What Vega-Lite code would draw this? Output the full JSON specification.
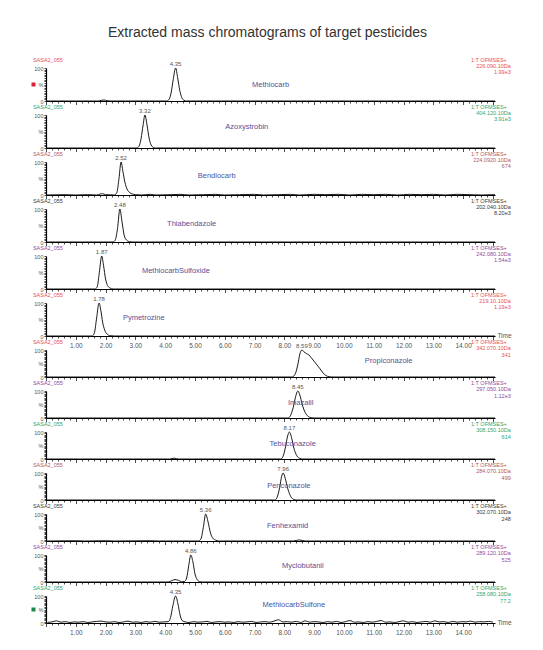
{
"$schema":"https://vega.github.io/schema/vega-lite/v6.json",
"title":{"text":"Extracted mass chromatograms of target pesticides","fontSize":14,"font":"Liberation Sans","fontWeight":"normal","color":"#333","anchor":"middle","offset":18,"dx":-4},
"padding":{"left":31,"top":25,"right":5,"bottom":5},
"spacing":14,
"bounds":"flush",
"config":{"view":{"stroke":null},"axis":{"domainColor":"#000","tickColor":"#000","labelFont":"Liberation Sans","labelColor":"#555","grid":false},"text":{"font":"Liberation Sans"}},
"data":{"values":[
{"c":"Methiocarb","peak":4.35,"sample":"SASA2_055","fn":"1:T OFMSES+","mz":"226.090.10Da","max":"1.99e3"},
{"c":"Azoxystrobin","peak":3.32,"sample":"SASA2_055","fn":"1:T OFMSES+","mz":"404.120.10Da","max":"3.91e3"},
{"c":"Bendiocarb","peak":2.52,"sample":"SASA2_055","fn":"1:T OFMSES+","mz":"224.0920.10Da","max":"674"},
{"c":"Thiabendazole","peak":2.48,"sample":"SASA2_055","fn":"1:T OFMSES+","mz":"202.040.10Da","max":"8.20e3"},
{"c":"MethiocarbSulfoxide","peak":1.87,"sample":"SASA2_055","fn":"1:T OFMSES+","mz":"242.080.10Da","max":"1.54e3"},
{"c":"Pymetrozine","peak":1.78,"sample":"SASA2_055","fn":"1:T OFMSES+","mz":"219.10.10Da","max":"1.19e3"},
{"c":"Propiconazole","peak":8.59,"sample":"SASA2_055","fn":"1:T OFMSES+","mz":"342.070.10Da","max":"341"},
{"c":"Imazalil","peak":8.45,"sample":"SASA2_055","fn":"1:T OFMSES+","mz":"297.050.10Da","max":"1.12e3"},
{"c":"Tebuconazole","peak":8.17,"sample":"SASA2_055","fn":"1:T OFMSES+","mz":"308.150.10Da","max":"614"},
{"c":"Penconazole","peak":7.96,"sample":"SASA2_055","fn":"1:T OFMSES+","mz":"284.070.10Da","max":"499"},
{"c":"Fenhexamid","peak":5.36,"sample":"SASA2_055","fn":"1:T OFMSES+","mz":"302.070.10Da","max":"248"},
{"c":"Myclobutanil","peak":4.86,"sample":"SASA2_055","fn":"1:T OFMSES+","mz":"289.120.10Da","max":"525"},
{"c":"MethiocarbSulfone","peak":4.35,"sample":"SASA2_055","fn":"1:T OFMSES+","mz":"258.080.10Da","max":"77.2"},
{"c":"Methiocarb","t":0.02,"i":0},{"c":"Methiocarb","t":1.75,"i":0},{"c":"Methiocarb","t":1.85,"i":2},{"c":"Methiocarb","t":1.95,"i":3},{"c":"Methiocarb","t":2.05,"i":1},{"c":"Methiocarb","t":2.15,"i":0},{"c":"Methiocarb","t":4.05,"i":0},{"c":"Methiocarb","t":4.13,"i":5},{"c":"Methiocarb","t":4.2,"i":25},{"c":"Methiocarb","t":4.27,"i":65},{"c":"Methiocarb","t":4.35,"i":100},{"c":"Methiocarb","t":4.42,"i":70},{"c":"Methiocarb","t":4.49,"i":32},{"c":"Methiocarb","t":4.56,"i":10},{"c":"Methiocarb","t":4.63,"i":2},{"c":"Methiocarb","t":4.72,"i":0},{"c":"Methiocarb","t":15.07,"i":0},
{"c":"Azoxystrobin","t":0.02,"i":0},{"c":"Azoxystrobin","t":3.05,"i":0},{"c":"Azoxystrobin","t":3.12,"i":5},{"c":"Azoxystrobin","t":3.19,"i":28},{"c":"Azoxystrobin","t":3.26,"i":70},{"c":"Azoxystrobin","t":3.32,"i":100},{"c":"Azoxystrobin","t":3.39,"i":70},{"c":"Azoxystrobin","t":3.46,"i":30},{"c":"Azoxystrobin","t":3.53,"i":9},{"c":"Azoxystrobin","t":3.6,"i":2},{"c":"Azoxystrobin","t":3.68,"i":0},{"c":"Azoxystrobin","t":15.07,"i":0},
{"c":"Bendiocarb","t":0.02,"i":0},{"c":"Bendiocarb","t":0.6,"i":1},{"c":"Bendiocarb","t":1.0,"i":0},{"c":"Bendiocarb","t":1.4,"i":1},{"c":"Bendiocarb","t":1.7,"i":0},{"c":"Bendiocarb","t":1.82,"i":3},{"c":"Bendiocarb","t":1.9,"i":4},{"c":"Bendiocarb","t":2.0,"i":1},{"c":"Bendiocarb","t":2.3,"i":0},{"c":"Bendiocarb","t":2.38,"i":8},{"c":"Bendiocarb","t":2.45,"i":50},{"c":"Bendiocarb","t":2.52,"i":100},{"c":"Bendiocarb","t":2.58,"i":72},{"c":"Bendiocarb","t":2.65,"i":38},{"c":"Bendiocarb","t":2.72,"i":18},{"c":"Bendiocarb","t":2.8,"i":8},{"c":"Bendiocarb","t":2.9,"i":3},{"c":"Bendiocarb","t":3.0,"i":1},{"c":"Bendiocarb","t":3.2,"i":0},{"c":"Bendiocarb","t":3.5,"i":2},{"c":"Bendiocarb","t":3.7,"i":0},{"c":"Bendiocarb","t":4.2,"i":1},{"c":"Bendiocarb","t":4.5,"i":2},{"c":"Bendiocarb","t":4.8,"i":0},{"c":"Bendiocarb","t":5.3,"i":1},{"c":"Bendiocarb","t":5.7,"i":2},{"c":"Bendiocarb","t":6.0,"i":0},{"c":"Bendiocarb","t":6.5,"i":1},{"c":"Bendiocarb","t":7.0,"i":2},{"c":"Bendiocarb","t":7.3,"i":0},{"c":"Bendiocarb","t":7.8,"i":1},{"c":"Bendiocarb","t":8.2,"i":2},{"c":"Bendiocarb","t":8.5,"i":0},{"c":"Bendiocarb","t":9.0,"i":2},{"c":"Bendiocarb","t":9.4,"i":1},{"c":"Bendiocarb","t":9.8,"i":2},{"c":"Bendiocarb","t":10.2,"i":0},{"c":"Bendiocarb","t":10.6,"i":2},{"c":"Bendiocarb","t":11.0,"i":1},{"c":"Bendiocarb","t":11.4,"i":2},{"c":"Bendiocarb","t":11.8,"i":0},{"c":"Bendiocarb","t":12.2,"i":2},{"c":"Bendiocarb","t":12.6,"i":1},{"c":"Bendiocarb","t":13.0,"i":2},{"c":"Bendiocarb","t":13.4,"i":0},{"c":"Bendiocarb","t":13.8,"i":2},{"c":"Bendiocarb","t":14.2,"i":1},{"c":"Bendiocarb","t":14.6,"i":0},{"c":"Bendiocarb","t":15.07,"i":1},
{"c":"Thiabendazole","t":0.02,"i":0},{"c":"Thiabendazole","t":2.25,"i":0},{"c":"Thiabendazole","t":2.32,"i":5},{"c":"Thiabendazole","t":2.4,"i":40},{"c":"Thiabendazole","t":2.48,"i":100},{"c":"Thiabendazole","t":2.55,"i":62},{"c":"Thiabendazole","t":2.62,"i":22},{"c":"Thiabendazole","t":2.7,"i":6},{"c":"Thiabendazole","t":2.8,"i":1},{"c":"Thiabendazole","t":2.9,"i":0},{"c":"Thiabendazole","t":15.07,"i":0},
{"c":"MethiocarbSulfoxide","t":0.02,"i":0},{"c":"MethiocarbSulfoxide","t":1.65,"i":0},{"c":"MethiocarbSulfoxide","t":1.72,"i":7},{"c":"MethiocarbSulfoxide","t":1.79,"i":50},{"c":"MethiocarbSulfoxide","t":1.87,"i":100},{"c":"MethiocarbSulfoxide","t":1.93,"i":72},{"c":"MethiocarbSulfoxide","t":2.0,"i":30},{"c":"MethiocarbSulfoxide","t":2.07,"i":10},{"c":"MethiocarbSulfoxide","t":2.15,"i":3},{"c":"MethiocarbSulfoxide","t":2.25,"i":0},{"c":"MethiocarbSulfoxide","t":15.07,"i":0},
{"c":"Pymetrozine","t":0.02,"i":0},{"c":"Pymetrozine","t":1.55,"i":0},{"c":"Pymetrozine","t":1.62,"i":8},{"c":"Pymetrozine","t":1.7,"i":55},{"c":"Pymetrozine","t":1.78,"i":100},{"c":"Pymetrozine","t":1.84,"i":78},{"c":"Pymetrozine","t":1.9,"i":42},{"c":"Pymetrozine","t":1.97,"i":18},{"c":"Pymetrozine","t":2.05,"i":6},{"c":"Pymetrozine","t":2.15,"i":1},{"c":"Pymetrozine","t":2.3,"i":0},{"c":"Pymetrozine","t":15.07,"i":0},
{"c":"Propiconazole","t":0.02,"i":0},{"c":"Propiconazole","t":8.25,"i":0},{"c":"Propiconazole","t":8.35,"i":8},{"c":"Propiconazole","t":8.45,"i":45},{"c":"Propiconazole","t":8.52,"i":85},{"c":"Propiconazole","t":8.59,"i":100},{"c":"Propiconazole","t":8.66,"i":93},{"c":"Propiconazole","t":8.74,"i":87},{"c":"Propiconazole","t":8.82,"i":82},{"c":"Propiconazole","t":8.9,"i":72},{"c":"Propiconazole","t":9.0,"i":58},{"c":"Propiconazole","t":9.1,"i":44},{"c":"Propiconazole","t":9.2,"i":30},{"c":"Propiconazole","t":9.3,"i":15},{"c":"Propiconazole","t":9.4,"i":5},{"c":"Propiconazole","t":9.5,"i":1},{"c":"Propiconazole","t":9.6,"i":0},{"c":"Propiconazole","t":15.07,"i":0},
{"c":"Imazalil","t":0.02,"i":0},{"c":"Imazalil","t":8.12,"i":0},{"c":"Imazalil","t":8.2,"i":8},{"c":"Imazalil","t":8.3,"i":40},{"c":"Imazalil","t":8.38,"i":80},{"c":"Imazalil","t":8.45,"i":100},{"c":"Imazalil","t":8.52,"i":85},{"c":"Imazalil","t":8.6,"i":50},{"c":"Imazalil","t":8.7,"i":20},{"c":"Imazalil","t":8.8,"i":6},{"c":"Imazalil","t":8.9,"i":1},{"c":"Imazalil","t":9.0,"i":0},{"c":"Imazalil","t":15.07,"i":0},
{"c":"Tebuconazole","t":0.02,"i":0},{"c":"Tebuconazole","t":4.15,"i":0},{"c":"Tebuconazole","t":4.3,"i":3},{"c":"Tebuconazole","t":4.45,"i":0},{"c":"Tebuconazole","t":7.88,"i":0},{"c":"Tebuconazole","t":7.95,"i":8},{"c":"Tebuconazole","t":8.04,"i":45},{"c":"Tebuconazole","t":8.11,"i":85},{"c":"Tebuconazole","t":8.17,"i":100},{"c":"Tebuconazole","t":8.24,"i":80},{"c":"Tebuconazole","t":8.32,"i":40},{"c":"Tebuconazole","t":8.42,"i":12},{"c":"Tebuconazole","t":8.52,"i":2},{"c":"Tebuconazole","t":8.62,"i":0},{"c":"Tebuconazole","t":15.07,"i":0},
{"c":"Penconazole","t":0.02,"i":0},{"c":"Penconazole","t":7.68,"i":0},{"c":"Penconazole","t":7.75,"i":8},{"c":"Penconazole","t":7.84,"i":45},{"c":"Penconazole","t":7.91,"i":88},{"c":"Penconazole","t":7.96,"i":100},{"c":"Penconazole","t":8.03,"i":80},{"c":"Penconazole","t":8.12,"i":40},{"c":"Penconazole","t":8.22,"i":12},{"c":"Penconazole","t":8.32,"i":2},{"c":"Penconazole","t":8.42,"i":0},{"c":"Penconazole","t":15.07,"i":0},
{"c":"Fenhexamid","t":0.02,"i":0},{"c":"Fenhexamid","t":1.0,"i":1},{"c":"Fenhexamid","t":1.3,"i":0},{"c":"Fenhexamid","t":2.0,"i":1},{"c":"Fenhexamid","t":2.3,"i":0},{"c":"Fenhexamid","t":3.5,"i":1},{"c":"Fenhexamid","t":3.8,"i":0},{"c":"Fenhexamid","t":5.12,"i":0},{"c":"Fenhexamid","t":5.2,"i":8},{"c":"Fenhexamid","t":5.28,"i":50},{"c":"Fenhexamid","t":5.36,"i":100},{"c":"Fenhexamid","t":5.44,"i":70},{"c":"Fenhexamid","t":5.52,"i":30},{"c":"Fenhexamid","t":5.6,"i":10},{"c":"Fenhexamid","t":5.7,"i":3},{"c":"Fenhexamid","t":5.8,"i":0},{"c":"Fenhexamid","t":8.3,"i":0},{"c":"Fenhexamid","t":8.5,"i":4},{"c":"Fenhexamid","t":8.7,"i":0},{"c":"Fenhexamid","t":15.07,"i":0},
{"c":"Myclobutanil","t":0.02,"i":0},{"c":"Myclobutanil","t":4.1,"i":0},{"c":"Myclobutanil","t":4.22,"i":5},{"c":"Myclobutanil","t":4.33,"i":9},{"c":"Myclobutanil","t":4.45,"i":6},{"c":"Myclobutanil","t":4.55,"i":1},{"c":"Myclobutanil","t":4.65,"i":2},{"c":"Myclobutanil","t":4.72,"i":15},{"c":"Myclobutanil","t":4.79,"i":60},{"c":"Myclobutanil","t":4.86,"i":100},{"c":"Myclobutanil","t":4.93,"i":75},{"c":"Myclobutanil","t":5.0,"i":30},{"c":"Myclobutanil","t":5.08,"i":8},{"c":"Myclobutanil","t":5.16,"i":1},{"c":"Myclobutanil","t":5.25,"i":0},{"c":"Myclobutanil","t":15.07,"i":0},
{"c":"MethiocarbSulfone","t":0.05,"i":2},{"c":"MethiocarbSulfone","t":0.2,"i":4},{"c":"MethiocarbSulfone","t":0.35,"i":8},{"c":"MethiocarbSulfone","t":0.5,"i":3},{"c":"MethiocarbSulfone","t":0.65,"i":5},{"c":"MethiocarbSulfone","t":0.8,"i":2},{"c":"MethiocarbSulfone","t":0.95,"i":4},{"c":"MethiocarbSulfone","t":1.1,"i":3},{"c":"MethiocarbSulfone","t":1.25,"i":5},{"c":"MethiocarbSulfone","t":1.4,"i":2},{"c":"MethiocarbSulfone","t":1.55,"i":4},{"c":"MethiocarbSulfone","t":1.7,"i":6},{"c":"MethiocarbSulfone","t":1.85,"i":7},{"c":"MethiocarbSulfone","t":2.0,"i":4},{"c":"MethiocarbSulfone","t":2.15,"i":3},{"c":"MethiocarbSulfone","t":2.3,"i":5},{"c":"MethiocarbSulfone","t":2.45,"i":2},{"c":"MethiocarbSulfone","t":2.6,"i":4},{"c":"MethiocarbSulfone","t":2.75,"i":7},{"c":"MethiocarbSulfone","t":2.9,"i":3},{"c":"MethiocarbSulfone","t":3.05,"i":4},{"c":"MethiocarbSulfone","t":3.2,"i":2},{"c":"MethiocarbSulfone","t":3.35,"i":5},{"c":"MethiocarbSulfone","t":3.5,"i":3},{"c":"MethiocarbSulfone","t":3.65,"i":6},{"c":"MethiocarbSulfone","t":3.8,"i":3},{"c":"MethiocarbSulfone","t":3.95,"i":4},{"c":"MethiocarbSulfone","t":4.1,"i":5},{"c":"MethiocarbSulfone","t":4.18,"i":20},{"c":"MethiocarbSulfone","t":4.26,"i":65},{"c":"MethiocarbSulfone","t":4.35,"i":100},{"c":"MethiocarbSulfone","t":4.43,"i":70},{"c":"MethiocarbSulfone","t":4.5,"i":30},{"c":"MethiocarbSulfone","t":4.58,"i":8},{"c":"MethiocarbSulfone","t":4.68,"i":4},{"c":"MethiocarbSulfone","t":4.8,"i":2},{"c":"MethiocarbSulfone","t":4.95,"i":5},{"c":"MethiocarbSulfone","t":5.1,"i":3},{"c":"MethiocarbSulfone","t":5.25,"i":4},{"c":"MethiocarbSulfone","t":5.4,"i":6},{"c":"MethiocarbSulfone","t":5.55,"i":2},{"c":"MethiocarbSulfone","t":5.7,"i":4},{"c":"MethiocarbSulfone","t":5.85,"i":5},{"c":"MethiocarbSulfone","t":6.0,"i":3},{"c":"MethiocarbSulfone","t":6.15,"i":4},{"c":"MethiocarbSulfone","t":6.3,"i":2},{"c":"MethiocarbSulfone","t":6.45,"i":5},{"c":"MethiocarbSulfone","t":6.6,"i":3},{"c":"MethiocarbSulfone","t":6.75,"i":4},{"c":"MethiocarbSulfone","t":6.9,"i":6},{"c":"MethiocarbSulfone","t":7.05,"i":2},{"c":"MethiocarbSulfone","t":7.2,"i":4},{"c":"MethiocarbSulfone","t":7.35,"i":5},{"c":"MethiocarbSulfone","t":7.5,"i":3},{"c":"MethiocarbSulfone","t":7.65,"i":7},{"c":"MethiocarbSulfone","t":7.8,"i":12},{"c":"MethiocarbSulfone","t":7.95,"i":4},{"c":"MethiocarbSulfone","t":8.1,"i":5},{"c":"MethiocarbSulfone","t":8.25,"i":3},{"c":"MethiocarbSulfone","t":8.4,"i":6},{"c":"MethiocarbSulfone","t":8.55,"i":2},{"c":"MethiocarbSulfone","t":8.7,"i":8},{"c":"MethiocarbSulfone","t":8.85,"i":3},{"c":"MethiocarbSulfone","t":9.0,"i":5},{"c":"MethiocarbSulfone","t":9.15,"i":4},{"c":"MethiocarbSulfone","t":9.3,"i":2},{"c":"MethiocarbSulfone","t":9.45,"i":5},{"c":"MethiocarbSulfone","t":9.6,"i":3},{"c":"MethiocarbSulfone","t":9.75,"i":6},{"c":"MethiocarbSulfone","t":9.9,"i":2},{"c":"MethiocarbSulfone","t":10.05,"i":5},{"c":"MethiocarbSulfone","t":10.2,"i":9},{"c":"MethiocarbSulfone","t":10.35,"i":3},{"c":"MethiocarbSulfone","t":10.5,"i":4},{"c":"MethiocarbSulfone","t":10.65,"i":2},{"c":"MethiocarbSulfone","t":10.8,"i":5},{"c":"MethiocarbSulfone","t":10.95,"i":3},{"c":"MethiocarbSulfone","t":11.1,"i":6},{"c":"MethiocarbSulfone","t":11.25,"i":9},{"c":"MethiocarbSulfone","t":11.4,"i":3},{"c":"MethiocarbSulfone","t":11.55,"i":4},{"c":"MethiocarbSulfone","t":11.7,"i":2},{"c":"MethiocarbSulfone","t":11.85,"i":5},{"c":"MethiocarbSulfone","t":12.0,"i":8},{"c":"MethiocarbSulfone","t":12.15,"i":3},{"c":"MethiocarbSulfone","t":12.3,"i":5},{"c":"MethiocarbSulfone","t":12.45,"i":2},{"c":"MethiocarbSulfone","t":12.6,"i":4},{"c":"MethiocarbSulfone","t":12.75,"i":6},{"c":"MethiocarbSulfone","t":12.9,"i":3},{"c":"MethiocarbSulfone","t":13.05,"i":8},{"c":"MethiocarbSulfone","t":13.2,"i":4},{"c":"MethiocarbSulfone","t":13.35,"i":5},{"c":"MethiocarbSulfone","t":13.5,"i":2},{"c":"MethiocarbSulfone","t":13.65,"i":6},{"c":"MethiocarbSulfone","t":13.8,"i":3},{"c":"MethiocarbSulfone","t":13.95,"i":5},{"c":"MethiocarbSulfone","t":14.1,"i":4},{"c":"MethiocarbSulfone","t":14.25,"i":7},{"c":"MethiocarbSulfone","t":14.4,"i":3},{"c":"MethiocarbSulfone","t":14.55,"i":5},{"c":"MethiocarbSulfone","t":14.7,"i":4},{"c":"MethiocarbSulfone","t":14.85,"i":6},{"c":"MethiocarbSulfone","t":15.0,"i":3}
]},
"vconcat":[
{"height":33,"width":449,"transform":[{"filter":"datum.c==='Methiocarb'"}],"layer":[
{"transform":[{"filter":"isValid(datum.t)"}],"mark":{"type":"line","color":"#000","strokeWidth":0.9,"interpolate":"monotone"},"encoding":{"x":{"field":"t","type":"quantitative","scale":{"domain":[0,15.07],"nice":false},"axis":{"title":null,"tickCount":75,"labels":false,"tickSize":{"condition":{"test":"abs(datum.value-round(datum.value))<0.001","value":3.5},"value":2},"tickWidth":0.7,"domainWidth":1.2}},"y":{"field":"i","type":"quantitative","scale":{"domain":[0,100],"nice":false},"axis":{"title":null,"tickCount":20,"labelExpr":"datum.value==100?'100':datum.value==50?'%':datum.value==0?'0':''","labelFontSize":5.5,"labelPadding":1,"labelOverlap":false,"labelFlush":false,"tickSize":2,"tickWidth":0.7,"domainWidth":1.2}}}},
{"transform":[{"filter":"isValid(datum.peak)"}],"layer":[
{"mark":{"type":"text","fontSize":6,"color":"#555","baseline":"bottom","dy":-1},"encoding":{"x":{"field":"peak","type":"quantitative"},"y":{"datum":100},"text":{"field":"peak","type":"quantitative","format":".2f"}}},
{"mark":{"type":"text","fontSize":7.5,"color":"#52529a"},"encoding":{"x":{"datum":7.54},"y":{"datum":50},"text":{"field":"c"}}},
{"mark":{"type":"text","fontSize":5.5,"align":"left","dy":-8.5,"color":"#e8505b"},"encoding":{"x":{"datum":-0.44},"y":{"datum":100},"text":{"field":"sample"}}},
{"mark":{"type":"text","fontSize":5.5,"align":"right","dy":-8.5,"dx":-4,"color":"#e8505b"},"encoding":{"x":{"datum":15.6},"y":{"datum":100},"text":{"field":"fn"}}},
{"mark":{"type":"text","fontSize":5.5,"align":"right","dy":-2.5,"color":"#e8505b"},"encoding":{"x":{"datum":15.6},"y":{"datum":100},"text":{"field":"mz"}}},
{"mark":{"type":"text","fontSize":5.5,"align":"right","dy":3.5,"color":"#e8505b"},"encoding":{"x":{"datum":15.6},"y":{"datum":100},"text":{"field":"max"}}},
{"mark":{"type":"square","size":16,"color":"#e02035","filled":true,"opacity":1},"encoding":{"x":{"datum":-0.42},"y":{"datum":50}}}
]}]},
{"height":33,"width":449,"transform":[{"filter":"datum.c==='Azoxystrobin'"}],"layer":[
{"transform":[{"filter":"isValid(datum.t)"}],"mark":{"type":"line","color":"#000","strokeWidth":0.9,"interpolate":"monotone"},"encoding":{"x":{"field":"t","type":"quantitative","scale":{"domain":[0,15.07],"nice":false},"axis":{"title":null,"tickCount":75,"labels":false,"tickSize":{"condition":{"test":"abs(datum.value-round(datum.value))<0.001","value":3.5},"value":2},"tickWidth":0.7,"domainWidth":1.2}},"y":{"field":"i","type":"quantitative","scale":{"domain":[0,100],"nice":false},"axis":{"title":null,"tickCount":20,"labelExpr":"datum.value==100?'100':datum.value==50?'%':datum.value==0?'0':''","labelFontSize":5.5,"labelPadding":1,"labelOverlap":false,"labelFlush":false,"tickSize":2,"tickWidth":0.7,"domainWidth":1.2}}}},
{"transform":[{"filter":"isValid(datum.peak)"}],"layer":[
{"mark":{"type":"text","fontSize":6,"color":"#555","baseline":"bottom","dy":-1},"encoding":{"x":{"field":"peak","type":"quantitative"},"y":{"datum":100},"text":{"field":"peak","type":"quantitative","format":".2f"}}},
{"mark":{"type":"text","fontSize":7.5,"color":"#52529a"},"encoding":{"x":{"datum":6.74},"y":{"datum":63},"text":{"field":"c"}}},
{"mark":{"type":"text","fontSize":5.5,"align":"left","dy":-8.5,"color":"#2fa572"},"encoding":{"x":{"datum":-0.44},"y":{"datum":100},"text":{"field":"sample"}}},
{"mark":{"type":"text","fontSize":5.5,"align":"right","dy":-8.5,"dx":-4,"color":"#2fa572"},"encoding":{"x":{"datum":15.6},"y":{"datum":100},"text":{"field":"fn"}}},
{"mark":{"type":"text","fontSize":5.5,"align":"right","dy":-2.5,"color":"#2fa572"},"encoding":{"x":{"datum":15.6},"y":{"datum":100},"text":{"field":"mz"}}},
{"mark":{"type":"text","fontSize":5.5,"align":"right","dy":3.5,"color":"#2fa572"},"encoding":{"x":{"datum":15.6},"y":{"datum":100},"text":{"field":"max"}}}
]}]},
{"height":33,"width":449,"transform":[{"filter":"datum.c==='Bendiocarb'"}],"layer":[
{"transform":[{"filter":"isValid(datum.t)"}],"mark":{"type":"line","color":"#000","strokeWidth":0.9,"interpolate":"monotone"},"encoding":{"x":{"field":"t","type":"quantitative","scale":{"domain":[0,15.07],"nice":false},"axis":{"title":null,"tickCount":75,"labels":false,"tickSize":{"condition":{"test":"abs(datum.value-round(datum.value))<0.001","value":3.5},"value":2},"tickWidth":0.7,"domainWidth":1.2}},"y":{"field":"i","type":"quantitative","scale":{"domain":[0,100],"nice":false},"axis":{"title":null,"tickCount":20,"labelExpr":"datum.value==100?'100':datum.value==50?'%':datum.value==0?'0':''","labelFontSize":5.5,"labelPadding":1,"labelOverlap":false,"labelFlush":false,"tickSize":2,"tickWidth":0.7,"domainWidth":1.2}}}},
{"transform":[{"filter":"isValid(datum.peak)"}],"layer":[
{"mark":{"type":"text","fontSize":6,"color":"#555","baseline":"bottom","dy":-1},"encoding":{"x":{"field":"peak","type":"quantitative"},"y":{"datum":100},"text":{"field":"peak","type":"quantitative","format":".2f"}}},
{"mark":{"type":"text","fontSize":7.5,"color":"#52529a"},"encoding":{"x":{"datum":5.73},"y":{"datum":58},"text":{"field":"c"}}},
{"mark":{"type":"text","fontSize":5.5,"align":"left","dy":-8.5,"color":"#b05a5e"},"encoding":{"x":{"datum":-0.44},"y":{"datum":100},"text":{"field":"sample"}}},
{"mark":{"type":"text","fontSize":5.5,"align":"right","dy":-8.5,"dx":-4,"color":"#b05a5e"},"encoding":{"x":{"datum":15.6},"y":{"datum":100},"text":{"field":"fn"}}},
{"mark":{"type":"text","fontSize":5.5,"align":"right","dy":-2.5,"color":"#b05a5e"},"encoding":{"x":{"datum":15.6},"y":{"datum":100},"text":{"field":"mz"}}},
{"mark":{"type":"text","fontSize":5.5,"align":"right","dy":3.5,"color":"#b05a5e"},"encoding":{"x":{"datum":15.6},"y":{"datum":100},"text":{"field":"max"}}}
]}]},
{"height":33,"width":449,"transform":[{"filter":"datum.c==='Thiabendazole'"}],"layer":[
{"transform":[{"filter":"isValid(datum.t)"}],"mark":{"type":"line","color":"#000","strokeWidth":0.9,"interpolate":"monotone"},"encoding":{"x":{"field":"t","type":"quantitative","scale":{"domain":[0,15.07],"nice":false},"axis":{"title":null,"tickCount":75,"labels":false,"tickSize":{"condition":{"test":"abs(datum.value-round(datum.value))<0.001","value":3.5},"value":2},"tickWidth":0.7,"domainWidth":1.2}},"y":{"field":"i","type":"quantitative","scale":{"domain":[0,100],"nice":false},"axis":{"title":null,"tickCount":20,"labelExpr":"datum.value==100?'100':datum.value==50?'%':datum.value==0?'0':''","labelFontSize":5.5,"labelPadding":1,"labelOverlap":false,"labelFlush":false,"tickSize":2,"tickWidth":0.7,"domainWidth":1.2}}}},
{"transform":[{"filter":"isValid(datum.peak)"}],"layer":[
{"mark":{"type":"text","fontSize":6,"color":"#555","baseline":"bottom","dy":-1},"encoding":{"x":{"field":"peak","type":"quantitative"},"y":{"datum":100},"text":{"field":"peak","type":"quantitative","format":".2f"}}},
{"mark":{"type":"text","fontSize":7.5,"color":"#52529a"},"encoding":{"x":{"datum":4.89},"y":{"datum":55},"text":{"field":"c"}}},
{"mark":{"type":"text","fontSize":5.5,"align":"left","dy":-8.5,"color":"#3a3a3a"},"encoding":{"x":{"datum":-0.44},"y":{"datum":100},"text":{"field":"sample"}}},
{"mark":{"type":"text","fontSize":5.5,"align":"right","dy":-8.5,"dx":-4,"color":"#3a3a3a"},"encoding":{"x":{"datum":15.6},"y":{"datum":100},"text":{"field":"fn"}}},
{"mark":{"type":"text","fontSize":5.5,"align":"right","dy":-2.5,"color":"#3a3a3a"},"encoding":{"x":{"datum":15.6},"y":{"datum":100},"text":{"field":"mz"}}},
{"mark":{"type":"text","fontSize":5.5,"align":"right","dy":3.5,"color":"#3a3a3a"},"encoding":{"x":{"datum":15.6},"y":{"datum":100},"text":{"field":"max"}}}
]}]},
{"height":33,"width":449,"transform":[{"filter":"datum.c==='MethiocarbSulfoxide'"}],"layer":[
{"transform":[{"filter":"isValid(datum.t)"}],"mark":{"type":"line","color":"#000","strokeWidth":0.9,"interpolate":"monotone"},"encoding":{"x":{"field":"t","type":"quantitative","scale":{"domain":[0,15.07],"nice":false},"axis":{"title":null,"tickCount":75,"labels":false,"tickSize":{"condition":{"test":"abs(datum.value-round(datum.value))<0.001","value":3.5},"value":2},"tickWidth":0.7,"domainWidth":1.2}},"y":{"field":"i","type":"quantitative","scale":{"domain":[0,100],"nice":false},"axis":{"title":null,"tickCount":20,"labelExpr":"datum.value==100?'100':datum.value==50?'%':datum.value==0?'0':''","labelFontSize":5.5,"labelPadding":1,"labelOverlap":false,"labelFlush":false,"tickSize":2,"tickWidth":0.7,"domainWidth":1.2}}}},
{"transform":[{"filter":"isValid(datum.peak)"}],"layer":[
{"mark":{"type":"text","fontSize":6,"color":"#555","baseline":"bottom","dy":-1},"encoding":{"x":{"field":"peak","type":"quantitative"},"y":{"datum":100},"text":{"field":"peak","type":"quantitative","format":".2f"}}},
{"mark":{"type":"text","fontSize":7.5,"color":"#52529a"},"encoding":{"x":{"datum":4.36},"y":{"datum":55},"text":{"field":"c"}}},
{"mark":{"type":"text","fontSize":5.5,"align":"left","dy":-8.5,"color":"#8e4c9e"},"encoding":{"x":{"datum":-0.44},"y":{"datum":100},"text":{"field":"sample"}}},
{"mark":{"type":"text","fontSize":5.5,"align":"right","dy":-8.5,"dx":-4,"color":"#8e4c9e"},"encoding":{"x":{"datum":15.6},"y":{"datum":100},"text":{"field":"fn"}}},
{"mark":{"type":"text","fontSize":5.5,"align":"right","dy":-2.5,"color":"#8e4c9e"},"encoding":{"x":{"datum":15.6},"y":{"datum":100},"text":{"field":"mz"}}},
{"mark":{"type":"text","fontSize":5.5,"align":"right","dy":3.5,"color":"#8e4c9e"},"encoding":{"x":{"datum":15.6},"y":{"datum":100},"text":{"field":"max"}}}
]}]},
{"height":33,"width":449,"transform":[{"filter":"datum.c==='Pymetrozine'"}],"layer":[
{"transform":[{"filter":"isValid(datum.t)"}],"mark":{"type":"line","color":"#000","strokeWidth":0.9,"interpolate":"monotone"},"encoding":{"x":{"field":"t","type":"quantitative","scale":{"domain":[0,15.07],"nice":false},"axis":{"title":null,"tickCount":75,"labels":true,"labelExpr":"datum.value>0.999&&datum.value<14.001&&abs(datum.value-round(datum.value))<0.001?format(datum.value,'.2f'):''","labelFontSize":6.5,"labelPadding":3,"labelOverlap":false,"labelFlush":false,"tickSize":{"condition":{"test":"abs(datum.value-round(datum.value))<0.001","value":3.5},"value":2},"tickWidth":0.7,"domainWidth":1.2}},"y":{"field":"i","type":"quantitative","scale":{"domain":[0,100],"nice":false},"axis":{"title":null,"tickCount":20,"labelExpr":"datum.value==100?'100':datum.value==50?'%':datum.value==0?'0':''","labelFontSize":5.5,"labelPadding":1,"labelOverlap":false,"labelFlush":false,"tickSize":2,"tickWidth":0.7,"domainWidth":1.2}}}},
{"transform":[{"filter":"isValid(datum.peak)"}],"layer":[
{"mark":{"type":"text","fontSize":6,"color":"#555","baseline":"bottom","dy":-1},"encoding":{"x":{"field":"peak","type":"quantitative"},"y":{"datum":100},"text":{"field":"peak","type":"quantitative","format":".2f"}}},
{"mark":{"type":"text","fontSize":7.5,"color":"#52529a"},"encoding":{"x":{"datum":3.28},"y":{"datum":55},"text":{"field":"c"}}},
{"mark":{"type":"text","fontSize":5.5,"align":"left","dy":-8.5,"color":"#e8505b"},"encoding":{"x":{"datum":-0.44},"y":{"datum":100},"text":{"field":"sample"}}},
{"mark":{"type":"text","fontSize":5.5,"align":"right","dy":-8.5,"dx":-4,"color":"#e8505b"},"encoding":{"x":{"datum":15.6},"y":{"datum":100},"text":{"field":"fn"}}},
{"mark":{"type":"text","fontSize":5.5,"align":"right","dy":-2.5,"color":"#e8505b"},"encoding":{"x":{"datum":15.6},"y":{"datum":100},"text":{"field":"mz"}}},
{"mark":{"type":"text","fontSize":5.5,"align":"right","dy":3.5,"color":"#e8505b"},"encoding":{"x":{"datum":15.6},"y":{"datum":100},"text":{"field":"max"}}},
{"mark":{"type":"text","fontSize":6.5,"color":"#555","align":"left"},"encoding":{"x":{"datum":15.15},"y":{"datum":0},"text":{"value":"Time"}}}
]}]},
{"height":27,"width":449,"transform":[{"filter":"datum.c==='Propiconazole'"}],"layer":[
{"transform":[{"filter":"isValid(datum.t)"}],"mark":{"type":"line","color":"#000","strokeWidth":0.9,"interpolate":"monotone"},"encoding":{"x":{"field":"t","type":"quantitative","scale":{"domain":[0,15.07],"nice":false},"axis":{"title":null,"tickCount":75,"labels":false,"tickSize":{"condition":{"test":"abs(datum.value-round(datum.value))<0.001","value":3.5},"value":2},"tickWidth":0.7,"domainWidth":1.2}},"y":{"field":"i","type":"quantitative","scale":{"domain":[0,100],"nice":false},"axis":{"title":null,"tickCount":20,"labelExpr":"datum.value==100?'100':datum.value==50?'%':datum.value==0?'0':''","labelFontSize":5.5,"labelPadding":1,"labelOverlap":false,"labelFlush":false,"tickSize":2,"tickWidth":0.7,"domainWidth":1.2}}}},
{"transform":[{"filter":"isValid(datum.peak)"}],"layer":[
{"mark":{"type":"text","fontSize":6,"color":"#555","baseline":"bottom","dy":-1},"encoding":{"x":{"field":"peak","type":"quantitative"},"y":{"datum":100},"text":{"field":"peak","type":"quantitative","format":".2f"}}},
{"mark":{"type":"text","fontSize":7.5,"color":"#52529a"},"encoding":{"x":{"datum":11.5},"y":{"datum":59},"text":{"field":"c"}}},
{"mark":{"type":"text","fontSize":5.5,"align":"left","dy":-8.5,"color":"#e8505b"},"encoding":{"x":{"datum":-0.44},"y":{"datum":100},"text":{"field":"sample"}}},
{"mark":{"type":"text","fontSize":5.5,"align":"right","dy":-8.5,"dx":-4,"color":"#e8505b"},"encoding":{"x":{"datum":15.6},"y":{"datum":100},"text":{"field":"fn"}}},
{"mark":{"type":"text","fontSize":5.5,"align":"right","dy":-2,"color":"#e8505b"},"encoding":{"x":{"datum":15.6},"y":{"datum":100},"text":{"field":"mz"}}},
{"mark":{"type":"text","fontSize":5.5,"align":"right","dy":4.5,"color":"#e8505b"},"encoding":{"x":{"datum":15.6},"y":{"datum":100},"text":{"field":"max"}}}
]}]},
{"height":27,"width":449,"transform":[{"filter":"datum.c==='Imazalil'"}],"layer":[
{"transform":[{"filter":"isValid(datum.t)"}],"mark":{"type":"line","color":"#000","strokeWidth":0.9,"interpolate":"monotone"},"encoding":{"x":{"field":"t","type":"quantitative","scale":{"domain":[0,15.07],"nice":false},"axis":{"title":null,"tickCount":75,"labels":false,"tickSize":{"condition":{"test":"abs(datum.value-round(datum.value))<0.001","value":3.5},"value":2},"tickWidth":0.7,"domainWidth":1.2}},"y":{"field":"i","type":"quantitative","scale":{"domain":[0,100],"nice":false},"axis":{"title":null,"tickCount":20,"labelExpr":"datum.value==100?'100':datum.value==50?'%':datum.value==0?'0':''","labelFontSize":5.5,"labelPadding":1,"labelOverlap":false,"labelFlush":false,"tickSize":2,"tickWidth":0.7,"domainWidth":1.2}}}},
{"transform":[{"filter":"isValid(datum.peak)"}],"layer":[
{"mark":{"type":"text","fontSize":6,"color":"#555","baseline":"bottom","dy":-1},"encoding":{"x":{"field":"peak","type":"quantitative"},"y":{"datum":100},"text":{"field":"peak","type":"quantitative","format":".2f"}}},
{"mark":{"type":"text","fontSize":7.5,"color":"#52529a"},"encoding":{"x":{"datum":8.55},"y":{"datum":57},"text":{"field":"c"}}},
{"mark":{"type":"text","fontSize":5.5,"align":"left","dy":-8.5,"color":"#8e4c9e"},"encoding":{"x":{"datum":-0.44},"y":{"datum":100},"text":{"field":"sample"}}},
{"mark":{"type":"text","fontSize":5.5,"align":"right","dy":-8.5,"dx":-4,"color":"#8e4c9e"},"encoding":{"x":{"datum":15.6},"y":{"datum":100},"text":{"field":"fn"}}},
{"mark":{"type":"text","fontSize":5.5,"align":"right","dy":-2,"color":"#8e4c9e"},"encoding":{"x":{"datum":15.6},"y":{"datum":100},"text":{"field":"mz"}}},
{"mark":{"type":"text","fontSize":5.5,"align":"right","dy":4.5,"color":"#8e4c9e"},"encoding":{"x":{"datum":15.6},"y":{"datum":100},"text":{"field":"max"}}}
]}]},
{"height":27,"width":449,"transform":[{"filter":"datum.c==='Tebuconazole'"}],"layer":[
{"transform":[{"filter":"isValid(datum.t)"}],"mark":{"type":"line","color":"#000","strokeWidth":0.9,"interpolate":"monotone"},"encoding":{"x":{"field":"t","type":"quantitative","scale":{"domain":[0,15.07],"nice":false},"axis":{"title":null,"tickCount":75,"labels":false,"tickSize":{"condition":{"test":"abs(datum.value-round(datum.value))<0.001","value":3.5},"value":2},"tickWidth":0.7,"domainWidth":1.2}},"y":{"field":"i","type":"quantitative","scale":{"domain":[0,100],"nice":false},"axis":{"title":null,"tickCount":20,"labelExpr":"datum.value==100?'100':datum.value==50?'%':datum.value==0?'0':''","labelFontSize":5.5,"labelPadding":1,"labelOverlap":false,"labelFlush":false,"tickSize":2,"tickWidth":0.7,"domainWidth":1.2}}}},
{"transform":[{"filter":"isValid(datum.peak)"}],"layer":[
{"mark":{"type":"text","fontSize":6,"color":"#555","baseline":"bottom","dy":-1},"encoding":{"x":{"field":"peak","type":"quantitative"},"y":{"datum":100},"text":{"field":"peak","type":"quantitative","format":".2f"}}},
{"mark":{"type":"text","fontSize":7.5,"color":"#52529a"},"encoding":{"x":{"datum":8.28},"y":{"datum":56},"text":{"field":"c"}}},
{"mark":{"type":"text","fontSize":5.5,"align":"left","dy":-8.5,"color":"#2fa572"},"encoding":{"x":{"datum":-0.44},"y":{"datum":100},"text":{"field":"sample"}}},
{"mark":{"type":"text","fontSize":5.5,"align":"right","dy":-8.5,"dx":-4,"color":"#2fa572"},"encoding":{"x":{"datum":15.6},"y":{"datum":100},"text":{"field":"fn"}}},
{"mark":{"type":"text","fontSize":5.5,"align":"right","dy":-2,"color":"#2fa572"},"encoding":{"x":{"datum":15.6},"y":{"datum":100},"text":{"field":"mz"}}},
{"mark":{"type":"text","fontSize":5.5,"align":"right","dy":4.5,"color":"#2fa572"},"encoding":{"x":{"datum":15.6},"y":{"datum":100},"text":{"field":"max"}}}
]}]},
{"height":27,"width":449,"transform":[{"filter":"datum.c==='Penconazole'"}],"layer":[
{"transform":[{"filter":"isValid(datum.t)"}],"mark":{"type":"line","color":"#000","strokeWidth":0.9,"interpolate":"monotone"},"encoding":{"x":{"field":"t","type":"quantitative","scale":{"domain":[0,15.07],"nice":false},"axis":{"title":null,"tickCount":75,"labels":false,"tickSize":{"condition":{"test":"abs(datum.value-round(datum.value))<0.001","value":3.5},"value":2},"tickWidth":0.7,"domainWidth":1.2}},"y":{"field":"i","type":"quantitative","scale":{"domain":[0,100],"nice":false},"axis":{"title":null,"tickCount":20,"labelExpr":"datum.value==100?'100':datum.value==50?'%':datum.value==0?'0':''","labelFontSize":5.5,"labelPadding":1,"labelOverlap":false,"labelFlush":false,"tickSize":2,"tickWidth":0.7,"domainWidth":1.2}}}},
{"transform":[{"filter":"isValid(datum.peak)"}],"layer":[
{"mark":{"type":"text","fontSize":6,"color":"#555","baseline":"bottom","dy":-1},"encoding":{"x":{"field":"peak","type":"quantitative"},"y":{"datum":100},"text":{"field":"peak","type":"quantitative","format":".2f"}}},
{"mark":{"type":"text","fontSize":7.5,"color":"#52529a"},"encoding":{"x":{"datum":8.15},"y":{"datum":52},"text":{"field":"c"}}},
{"mark":{"type":"text","fontSize":5.5,"align":"left","dy":-8.5,"color":"#b05a5e"},"encoding":{"x":{"datum":-0.44},"y":{"datum":100},"text":{"field":"sample"}}},
{"mark":{"type":"text","fontSize":5.5,"align":"right","dy":-8.5,"dx":-4,"color":"#b05a5e"},"encoding":{"x":{"datum":15.6},"y":{"datum":100},"text":{"field":"fn"}}},
{"mark":{"type":"text","fontSize":5.5,"align":"right","dy":-2,"color":"#b05a5e"},"encoding":{"x":{"datum":15.6},"y":{"datum":100},"text":{"field":"mz"}}},
{"mark":{"type":"text","fontSize":5.5,"align":"right","dy":4.5,"color":"#b05a5e"},"encoding":{"x":{"datum":15.6},"y":{"datum":100},"text":{"field":"max"}}}
]}]},
{"height":27,"width":449,"transform":[{"filter":"datum.c==='Fenhexamid'"}],"layer":[
{"transform":[{"filter":"isValid(datum.t)"}],"mark":{"type":"line","color":"#000","strokeWidth":0.9,"interpolate":"monotone"},"encoding":{"x":{"field":"t","type":"quantitative","scale":{"domain":[0,15.07],"nice":false},"axis":{"title":null,"tickCount":75,"labels":false,"tickSize":{"condition":{"test":"abs(datum.value-round(datum.value))<0.001","value":3.5},"value":2},"tickWidth":0.7,"domainWidth":1.2}},"y":{"field":"i","type":"quantitative","scale":{"domain":[0,100],"nice":false},"axis":{"title":null,"tickCount":20,"labelExpr":"datum.value==100?'100':datum.value==50?'%':datum.value==0?'0':''","labelFontSize":5.5,"labelPadding":1,"labelOverlap":false,"labelFlush":false,"tickSize":2,"tickWidth":0.7,"domainWidth":1.2}}}},
{"transform":[{"filter":"isValid(datum.peak)"}],"layer":[
{"mark":{"type":"text","fontSize":6,"color":"#555","baseline":"bottom","dy":-1},"encoding":{"x":{"field":"peak","type":"quantitative"},"y":{"datum":100},"text":{"field":"peak","type":"quantitative","format":".2f"}}},
{"mark":{"type":"text","fontSize":7.5,"color":"#52529a"},"encoding":{"x":{"datum":8.11},"y":{"datum":56},"text":{"field":"c"}}},
{"mark":{"type":"text","fontSize":5.5,"align":"left","dy":-8.5,"color":"#3a3a3a"},"encoding":{"x":{"datum":-0.44},"y":{"datum":100},"text":{"field":"sample"}}},
{"mark":{"type":"text","fontSize":5.5,"align":"right","dy":-8.5,"dx":-4,"color":"#3a3a3a"},"encoding":{"x":{"datum":15.6},"y":{"datum":100},"text":{"field":"fn"}}},
{"mark":{"type":"text","fontSize":5.5,"align":"right","dy":-2,"color":"#3a3a3a"},"encoding":{"x":{"datum":15.6},"y":{"datum":100},"text":{"field":"mz"}}},
{"mark":{"type":"text","fontSize":5.5,"align":"right","dy":4.5,"color":"#3a3a3a"},"encoding":{"x":{"datum":15.6},"y":{"datum":100},"text":{"field":"max"}}}
]}]},
{"height":27,"width":449,"transform":[{"filter":"datum.c==='Myclobutanil'"}],"layer":[
{"transform":[{"filter":"isValid(datum.t)"}],"mark":{"type":"line","color":"#000","strokeWidth":0.9,"interpolate":"monotone"},"encoding":{"x":{"field":"t","type":"quantitative","scale":{"domain":[0,15.07],"nice":false},"axis":{"title":null,"tickCount":75,"labels":false,"tickSize":{"condition":{"test":"abs(datum.value-round(datum.value))<0.001","value":3.5},"value":2},"tickWidth":0.7,"domainWidth":1.2}},"y":{"field":"i","type":"quantitative","scale":{"domain":[0,100],"nice":false},"axis":{"title":null,"tickCount":20,"labelExpr":"datum.value==100?'100':datum.value==50?'%':datum.value==0?'0':''","labelFontSize":5.5,"labelPadding":1,"labelOverlap":false,"labelFlush":false,"tickSize":2,"tickWidth":0.7,"domainWidth":1.2}}}},
{"transform":[{"filter":"isValid(datum.peak)"}],"layer":[
{"mark":{"type":"text","fontSize":6,"color":"#555","baseline":"bottom","dy":-1},"encoding":{"x":{"field":"peak","type":"quantitative"},"y":{"datum":100},"text":{"field":"peak","type":"quantitative","format":".2f"}}},
{"mark":{"type":"text","fontSize":7.5,"color":"#52529a"},"encoding":{"x":{"datum":8.62},"y":{"datum":58},"text":{"field":"c"}}},
{"mark":{"type":"text","fontSize":5.5,"align":"left","dy":-8.5,"color":"#8e4c9e"},"encoding":{"x":{"datum":-0.44},"y":{"datum":100},"text":{"field":"sample"}}},
{"mark":{"type":"text","fontSize":5.5,"align":"right","dy":-8.5,"dx":-4,"color":"#8e4c9e"},"encoding":{"x":{"datum":15.6},"y":{"datum":100},"text":{"field":"fn"}}},
{"mark":{"type":"text","fontSize":5.5,"align":"right","dy":-2,"color":"#8e4c9e"},"encoding":{"x":{"datum":15.6},"y":{"datum":100},"text":{"field":"mz"}}},
{"mark":{"type":"text","fontSize":5.5,"align":"right","dy":4.5,"color":"#8e4c9e"},"encoding":{"x":{"datum":15.6},"y":{"datum":100},"text":{"field":"max"}}}
]}]},
{"height":27,"width":449,"transform":[{"filter":"datum.c==='MethiocarbSulfone'"}],"layer":[
{"transform":[{"filter":"isValid(datum.t)"}],"mark":{"type":"line","color":"#000","strokeWidth":0.9,"interpolate":"monotone"},"encoding":{"x":{"field":"t","type":"quantitative","scale":{"domain":[0,15.07],"nice":false},"axis":{"title":null,"tickCount":75,"labels":true,"labelExpr":"datum.value>0.999&&datum.value<14.001&&abs(datum.value-round(datum.value))<0.001?format(datum.value,'.2f'):''","labelFontSize":6.5,"labelPadding":3,"labelOverlap":false,"labelFlush":false,"tickSize":{"condition":{"test":"abs(datum.value-round(datum.value))<0.001","value":3.5},"value":2},"tickWidth":0.7,"domainWidth":1.2}},"y":{"field":"i","type":"quantitative","scale":{"domain":[0,100],"nice":false},"axis":{"title":null,"tickCount":20,"labelExpr":"datum.value==100?'100':datum.value==50?'%':datum.value==0?'0':''","labelFontSize":5.5,"labelPadding":1,"labelOverlap":false,"labelFlush":false,"tickSize":2,"tickWidth":0.7,"domainWidth":1.2}}}},
{"transform":[{"filter":"isValid(datum.peak)"}],"layer":[
{"mark":{"type":"text","fontSize":6,"color":"#555","baseline":"bottom","dy":-1},"encoding":{"x":{"field":"peak","type":"quantitative"},"y":{"datum":100},"text":{"field":"peak","type":"quantitative","format":".2f"}}},
{"mark":{"type":"text","fontSize":7.5,"color":"#52529a"},"encoding":{"x":{"datum":8.32},"y":{"datum":68},"text":{"field":"c"}}},
{"mark":{"type":"text","fontSize":5.5,"align":"left","dy":-8.5,"color":"#2fa572"},"encoding":{"x":{"datum":-0.44},"y":{"datum":100},"text":{"field":"sample"}}},
{"mark":{"type":"text","fontSize":5.5,"align":"right","dy":-8.5,"dx":-4,"color":"#2fa572"},"encoding":{"x":{"datum":15.6},"y":{"datum":100},"text":{"field":"fn"}}},
{"mark":{"type":"text","fontSize":5.5,"align":"right","dy":-2,"color":"#2fa572"},"encoding":{"x":{"datum":15.6},"y":{"datum":100},"text":{"field":"mz"}}},
{"mark":{"type":"text","fontSize":5.5,"align":"right","dy":4.5,"color":"#2fa572"},"encoding":{"x":{"datum":15.6},"y":{"datum":100},"text":{"field":"max"}}},
{"mark":{"type":"square","size":16,"color":"#1a8a50","filled":true,"opacity":1},"encoding":{"x":{"datum":-0.42},"y":{"datum":50}}},
{"mark":{"type":"text","fontSize":6.5,"color":"#555","align":"left"},"encoding":{"x":{"datum":15.15},"y":{"datum":0},"text":{"value":"Time"}}}
]}]}
]
}
